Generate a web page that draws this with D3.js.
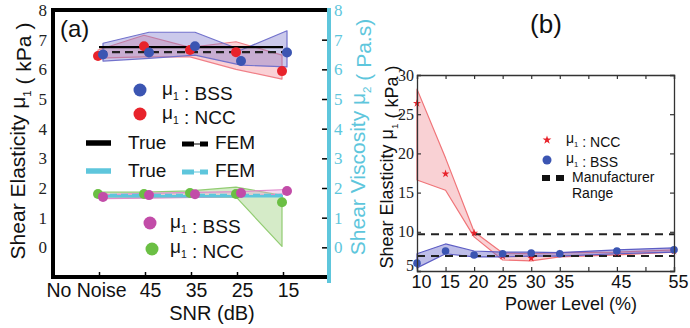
<!DOCTYPE html>
<html><head><meta charset="utf-8">
<script src="https://cdn.jsdelivr.net/npm/d3@7"></script>
<style>body{margin:0;background:#fff}svg{display:block}</style>
</head><body><svg id="c" width="690" height="328"></svg>
<script>
// ---------- DATA: panel (a) ----------
const snrLabels = ["No Noise", "45", "35", "25", "15"];
const mu1True = [6.75, 6.75, 6.75, 6.75, 6.75];
const mu1Fem  = [6.58, 6.58, 6.58, 6.58, 6.58];
const mu1Bss   = [6.50, 6.57, 6.78, 6.28, 6.57];
const mu1BssHi = [6.88, 7.25, 7.25, 6.65, 7.30];
const mu1BssLo = [6.28, 6.37, 6.48, 6.14, 6.08];
const mu1Ncc   = [6.45, 6.78, 6.65, 6.58, 5.94];
const mu1NccHi = [6.65, 7.15, 6.74, 6.93, 6.48];
const mu1NccLo = [6.38, 6.42, 6.42, 6.00, 5.67];
const mu2True = [1.72, 1.72, 1.72, 1.72, 1.72];
const mu2Fem  = [1.78, 1.78, 1.78, 1.78, 1.78];
const mu2Bss   = [1.70, 1.76, 1.79, 1.83, 1.90];
const mu2BssHi = [1.78, 1.82, 1.85, 1.88, 1.95];
const mu2BssLo = [1.64, 1.66, 1.68, 1.72, 1.80];
const mu2Ncc   = [1.80, 1.80, 1.83, 1.80, 1.52];
const mu2NccHi = [1.86, 1.86, 1.90, 2.03, 1.75];
const mu2NccLo = [1.70, 1.68, 1.68, 1.70, 0.03];
const yTicksA = [0, 1, 2, 3, 4, 5, 6, 7, 8];

// ---------- DATA: panel (b) ----------
const power = [10, 15, 20, 25, 30, 35, 45, 55];
const nccB   = [26.4, 17.4, 9.85, 6.9, 6.65, 7.2, 7.3, 7.55];
const nccBHi = [28.2, 19.4, 10.0, 7.3, 7.2, 7.35, 7.4, 7.7];
const nccBLo = [16.6, 15.3, 9.35, 6.4, 6.3, 6.8, 7.05, 7.4];
const bssB   = [6.0, 7.55, 7.05, 7.2, 7.3, 7.2, 7.55, 7.7];
const bssBHi = [7.2, 8.45, 7.55, 7.4, 7.4, 7.35, 7.7, 7.95];
const bssBLo = [5.4, 7.2, 6.8, 6.8, 6.9, 6.9, 7.2, 7.4];
const manufacturerRange = [6.9, 9.7];
const xTicksB = [10, 15, 20, 25, 30, 35, 40, 45, 50, 55];
const xLabelsB = ["10", "15", "20", "25", "30", "35", "", "45", "", "55"];
const yTicksB = [5, 10, 15, 20, 25, 30];

// ---------- STYLE ----------
const SANS = "'Liberation Sans', Arial, sans-serif";
const SERIF = "'Liberation Serif', 'Times New Roman', serif";
const CYAN = "#5ec6dc";
const BLUE = "#3b55b2", RED = "#e8232b", MAG = "#c24ca8", GREEN = "#6bbf44";

const svg = d3.select("#c");

function rich(sel, parts, fs) {
  parts.forEach(p => {
    if (p.sub) {
      sel.append("tspan").attr("font-size", fs * 0.55).attr("dy", fs * 0.28).text(p.t);
      sel.append("tspan").attr("dy", -fs * 0.28).text("");
    } else sel.append("tspan").text(p.t);
  });
  return sel;
}

function band(g, xs, lo, hi, xf, yf, fill, op, stroke) {
  const data = xs.map((x, i) => ({x, lo: lo[i], hi: hi[i]}));
  g.append("path").datum(data)
    .attr("d", d3.area().x(d => xf(d.x)).y0(d => yf(d.lo)).y1(d => yf(d.hi)))
    .attr("fill", fill).attr("fill-opacity", op)
    .attr("stroke", stroke).attr("stroke-width", 1.2).attr("stroke-linejoin", "round");
}
function hline(g, xs, vals, xf, yf, color, w, dash) {
  const p = g.append("path").datum(xs.map((x, i) => [x, vals[i]]))
    .attr("d", d3.line().x(d => xf(d[0])).y(d => yf(d[1])))
    .attr("fill", "none").attr("stroke", color).attr("stroke-width", w);
  if (dash) p.attr("stroke-dasharray", dash);
}
function dots(g, xs, vals, xf, yf, color, r) {
  g.selectAll(null).data(xs.map((x, i) => [x, vals[i]])).enter().append("circle")
    .attr("cx", d => xf(d[0])).attr("cy", d => yf(d[1])).attr("r", r).attr("fill", color);
}

// ================= PANEL (a) =================
const xA = d3.scaleLinear().domain([-1, 5]).range([53, 329]);
const yA = d3.scaleLinear().domain([-1, 8]).range([277, 10]);
const idx = snrLabels.map((d, i) => i);
const xBss = i => xA(i) + 4, xNcc = i => xA(i) - 1, xMid = i => xA(i);

const gA = svg.append("g");
band(gA, idx, mu1NccLo, mu1NccHi, xNcc, yA, "#f39aa3", 0.45, "#f08088");
band(gA, idx, mu1BssLo, mu1BssHi, xBss, yA, "#7c78cc", 0.4, "#7272cc");
hline(gA, idx, mu1True, xMid, yA, "#000", 2.2);
hline(gA, idx, mu1Fem, xMid, yA, "#222", 2.4, "8,5");
dots(gA, idx, mu1Ncc, xNcc, yA, RED, 5);
dots(gA, idx, mu1Bss, xBss, yA, BLUE, 5);
band(gA, idx, mu2NccLo, mu2NccHi, xNcc, yA, "#b9dea4", 0.6, "#92cc72");
band(gA, idx, mu2BssLo, mu2BssHi, xBss, yA, "#e6a6d6", 0.4, "#e08ccc");
hline(gA, idx, mu2True, xMid, yA, CYAN, 2.6);
hline(gA, idx, mu2Fem, xMid, yA, CYAN, 1.8, "7,4");
dots(gA, idx, mu2Ncc, xNcc, yA, GREEN, 5);
dots(gA, idx, mu2Bss, xBss, yA, MAG, 5);

const axL = svg.append("g").attr("transform", "translate(53,0)")
  .call(d3.axisLeft(yA).tickValues(yTicksA).tickSize(0).tickPadding(6));
axL.select(".domain").remove();
axL.selectAll("text").attr("font-family", SERIF).attr("font-size", 17).attr("fill", "#222");

const axR = svg.append("g").attr("transform", "translate(327,0)")
  .call(d3.axisRight(yA).tickValues(yTicksA).tickSize(-5).tickPadding(7));
axR.select(".domain").remove();
axR.selectAll("line").attr("stroke", "#000").attr("stroke-width", 1.5);
axR.selectAll("text").attr("font-family", SERIF).attr("font-size", 17).attr("fill", CYAN);

const axB = svg.append("g").attr("transform", "translate(0,277)")
  .call(d3.axisBottom(xA).tickValues(idx).tickFormat(i => snrLabels[i]).tickSize(-5).tickPadding(6));
axB.select(".domain").remove();
axB.selectAll("line").attr("stroke", "#000").attr("stroke-width", 1.5);
axB.selectAll("text").attr("font-family", SANS).attr("font-size", 19.5).attr("fill", "#111")
  .attr("dx", (d, i) => i === 0 ? -13 : 5);

svg.append("line").attr("x1", 51).attr("x2", 328).attr("y1", 10).attr("y2", 10).attr("stroke", "#000").attr("stroke-width", 4);
svg.append("line").attr("x1", 51).attr("x2", 328).attr("y1", 277).attr("y2", 277).attr("stroke", "#000").attr("stroke-width", 4);
svg.append("line").attr("x1", 53).attr("x2", 53).attr("y1", 8).attr("y2", 279).attr("stroke", "#000").attr("stroke-width", 4);
svg.append("line").attr("x1", 329).attr("x2", 329).attr("y1", 8).attr("y2", 283).attr("stroke", CYAN).attr("stroke-width", 4);

svg.append("text").attr("x", 60).attr("y", 37).attr("font-family", SANS).attr("font-size", 24).attr("fill", "#111").text("(a)");
svg.append("text").attr("x", 212).attr("y", 320).attr("text-anchor", "middle").attr("font-family", SANS).attr("font-size", 20).attr("fill", "#111").text("SNR (dB)");
rich(svg.append("text").attr("transform", "translate(25,141) rotate(-90)").attr("text-anchor", "middle")
  .attr("font-family", SANS).attr("font-size", 21).attr("fill", "#111"),
  [{t: "Shear Elasticity μ"}, {t: "1", sub: true}, {t: " ( kPa )"}], 21);
rich(svg.append("text").attr("transform", "translate(365,137) rotate(-90)").attr("text-anchor", "middle")
  .attr("font-family", SANS).attr("font-size", 21).attr("fill", CYAN),
  [{t: "Shear Viscosity μ"}, {t: "2", sub: true}, {t: " ( Pa.s)"}], 21);

function legDot(x, y, color, tx, ty, label) {
  svg.append("circle").attr("cx", x).attr("cy", y).attr("r", 6.5).attr("fill", color);
  rich(svg.append("text").attr("x", tx).attr("y", ty).attr("font-family", SANS).attr("font-size", 19).attr("fill", "#111"),
    [{t: "μ"}, {t: "1", sub: true}, {t: " : " + label}], 19);
}
legDot(140, 90, BLUE, 162, 95, "BSS");
legDot(140, 114, RED, 162, 119, "NCC");
legDot(150, 223, MAG, 170, 228, "BSS");
legDot(152, 249, GREEN, 170, 253, "NCC");
function legLine(y, color, ty) {
  svg.append("line").attr("x1", 86).attr("x2", 111).attr("y1", y).attr("y2", y).attr("stroke", color).attr("stroke-width", 5.5);
  svg.append("text").attr("x", 128).attr("y", ty).attr("font-family", SANS).attr("font-size", 19).attr("fill", "#111").text("True");
  svg.append("line").attr("x1", 182).attr("x2", 208).attr("y1", y + 1).attr("y2", y + 1).attr("stroke", color).attr("stroke-width", 1);
  svg.append("line").attr("x1", 182).attr("x2", 208).attr("y1", y + 1).attr("y2", y + 1).attr("stroke", color).attr("stroke-width", 5).attr("stroke-dasharray", "12,6");
  svg.append("text").attr("x", 215).attr("y", ty).attr("font-family", SANS).attr("font-size", 19).attr("fill", "#111").text("FEM");
}
legLine(143, "#000", 149);
legLine(171, CYAN, 177);

// ================= PANEL (b) =================
const xB = d3.scaleLinear().domain([10, 55]).range([417, 674]);
const yB = d3.scaleLinear().domain([5, 30]).range([271, 75]);
const gB = svg.append("g");
band(gB, power, nccBLo, nccBHi, xB, yB, "#f5b3b8", 0.6, "#f07478");
band(gB, power, bssBLo, bssBHi, xB, yB, "#6f6fcc", 0.45, "#5d5dc4");
manufacturerRange.forEach(v => {
  gB.append("path").datum([10, 55]).attr("d", d3.line().x(d => xB(d)).y(() => yB(v)))
    .attr("stroke", "#222").attr("stroke-width", 2).attr("stroke-dasharray", "8,6").attr("fill", "none");
});
gB.selectAll(null).data(power.map((p, i) => [p, nccB[i]])).enter().append("path")
  .attr("d", d3.symbol(d3.symbolStar, 20)).attr("transform", d => `translate(${xB(d[0])},${yB(d[1])})`).attr("fill", RED);
dots(gB, power, bssB, xB, yB, BLUE, 3.8);

const bL = svg.append("g").attr("transform", "translate(417,0)")
  .call(d3.axisLeft(yB).tickValues(yTicksB).tickSize(-4).tickPadding(3));
const bR = svg.append("g").attr("transform", "translate(674,0)")
  .call(d3.axisRight(yB).tickValues(yTicksB).tickSize(-4).tickFormat(""));
const bT = svg.append("g").attr("transform", "translate(0,75)")
  .call(d3.axisTop(xB).tickValues(xTicksB).tickSize(-4).tickFormat(""));
const bB = svg.append("g").attr("transform", "translate(0,271)")
  .call(d3.axisBottom(xB).tickValues(xTicksB).tickSize(-4).tickPadding(4).tickFormat((d, i) => xLabelsB[i]));
[bL, bR, bT, bB].forEach(a => {
  a.select(".domain").attr("stroke", "#333").attr("stroke-width", 1.3);
  a.selectAll("line").attr("stroke", "#333").attr("stroke-width", 1.2);
});
bL.selectAll("text").attr("font-family", SERIF).attr("font-size", 16).attr("fill", "#222")
  .attr("y", d => d === 5 ? -6 : 0);
bB.selectAll("text").attr("font-family", SANS).attr("font-size", 18).attr("fill", "#111").attr("dx", 4);

svg.append("text").attr("x", 571).attr("y", 310).attr("text-anchor", "middle").attr("font-family", SANS).attr("font-size", 18).attr("fill", "#111").text("Power Level (%)");
svg.append("text").attr("x", 546).attr("y", 33).attr("text-anchor", "middle").attr("font-family", SANS).attr("font-size", 26).attr("fill", "#111").text("(b)");
rich(svg.append("text").attr("transform", "translate(393,167) rotate(-90)").attr("text-anchor", "middle")
  .attr("font-family", SANS).attr("font-size", 18).attr("fill", "#111"),
  [{t: "Shear Elasticity μ"}, {t: "1", sub: true}, {t: " ( kPa )"}], 18);

svg.append("path").attr("d", d3.symbol(d3.symbolStar, 24)).attr("transform", "translate(547,140)").attr("fill", RED);
rich(svg.append("text").attr("x", 566).attr("y", 143).attr("font-family", SANS).attr("font-size", 14).attr("fill", "#111"),
  [{t: "μ"}, {t: "1", sub: true}, {t: " : NCC"}], 14);
svg.append("circle").attr("cx", 547).attr("cy", 160).attr("r", 4.5).attr("fill", BLUE);
rich(svg.append("text").attr("x", 566).attr("y", 163).attr("font-family", SANS).attr("font-size", 14).attr("fill", "#111"),
  [{t: "μ"}, {t: "1", sub: true}, {t: " : BSS"}], 14);
svg.append("line").attr("x1", 542).attr("x2", 564).attr("y1", 178).attr("y2", 178).attr("stroke", "#111").attr("stroke-width", 6).attr("stroke-dasharray", "8,6");
svg.append("text").attr("x", 572).attr("y", 182).attr("font-family", SANS).attr("font-size", 14).attr("fill", "#111").text("Manufacturer");
svg.append("text").attr("x", 572).attr("y", 198).attr("font-family", SANS).attr("font-size", 14).attr("fill", "#111").text("Range");
</script>
</body></html>
